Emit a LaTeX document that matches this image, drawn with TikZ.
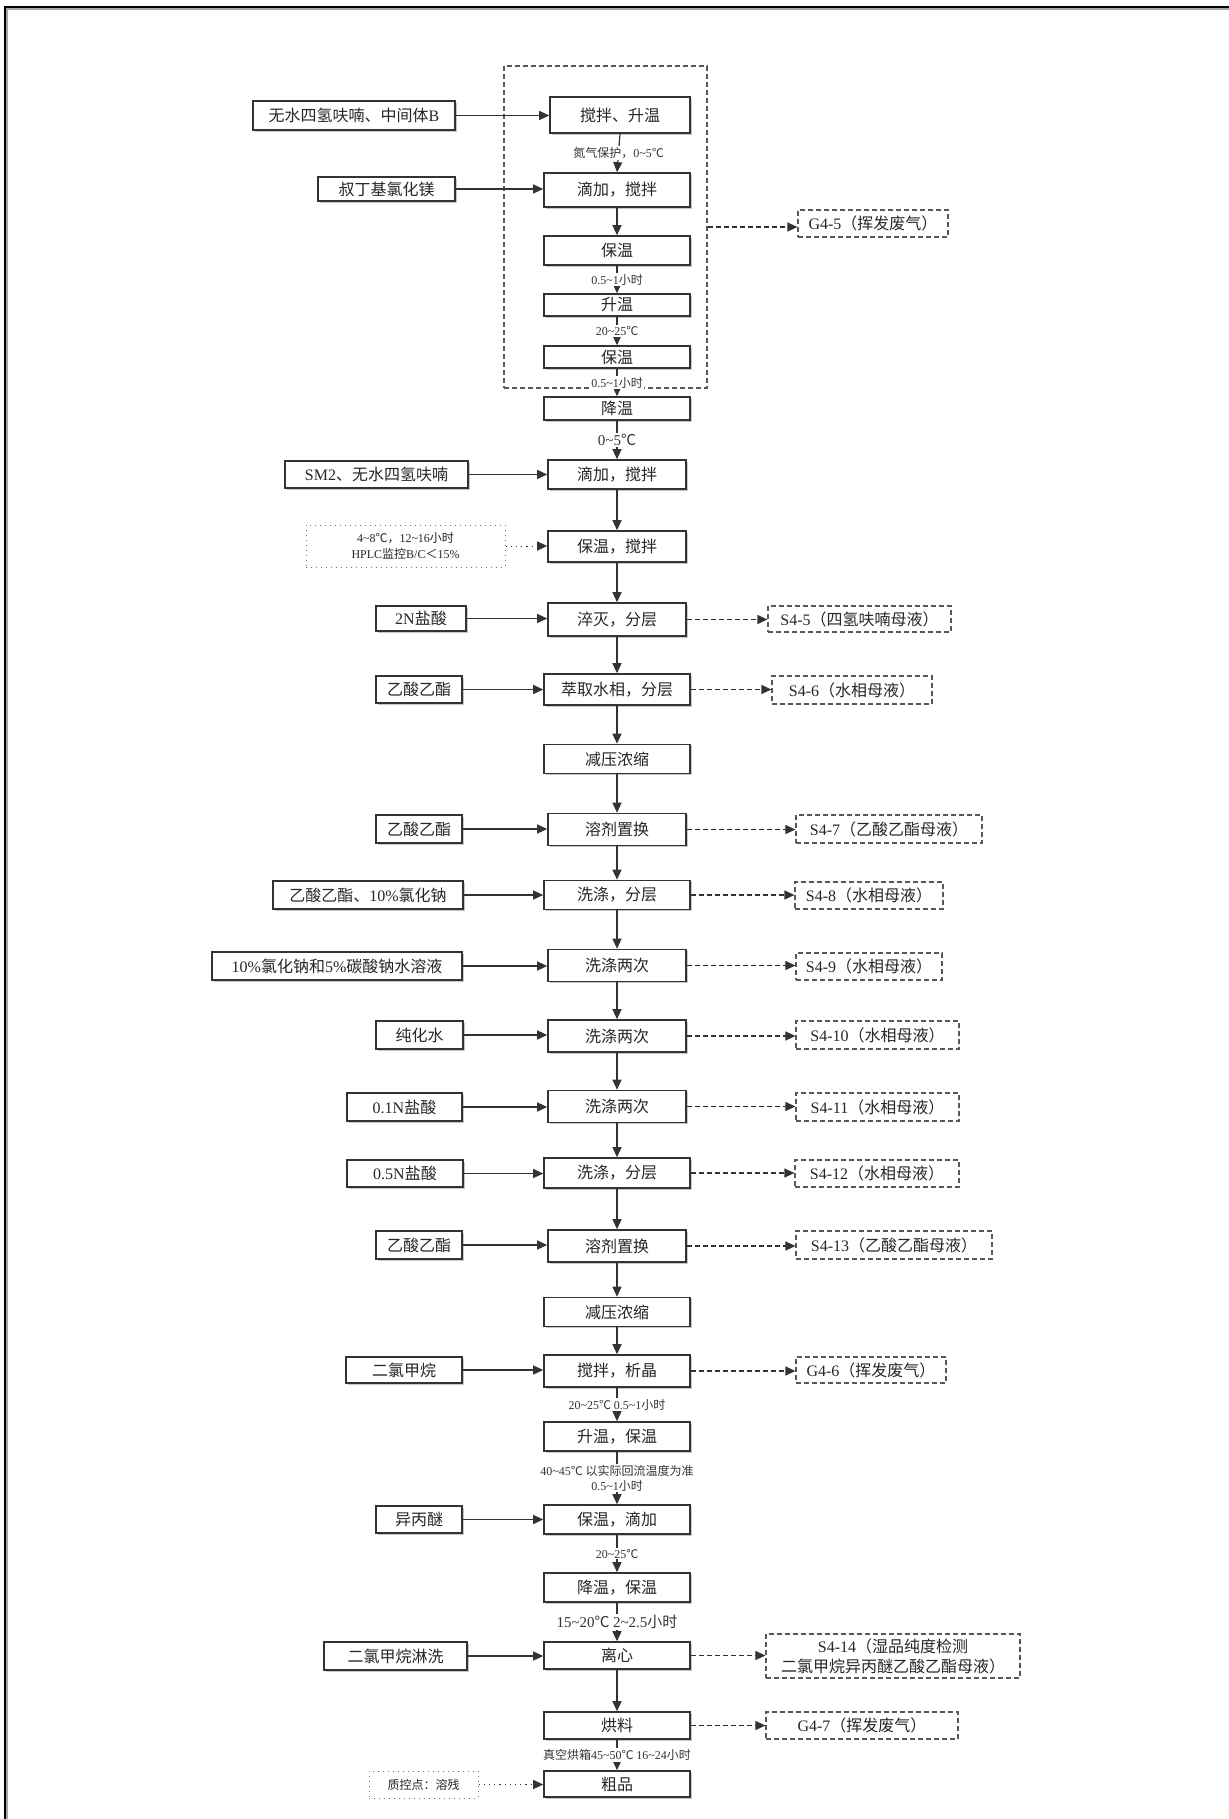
\documentclass[tikz,border=0pt]{standalone}
\usepackage{fontspec}
\setmainfont{Noto Sans CJK SC}
\newfontfamily\latf{Liberation Serif}
\usetikzlibrary{arrows.meta,shadows}
\newcommand\myl[1]{{\latf #1}}
\newcommand\tld{\textasciitilde}
\newcommand\fsA{\fontsize{8pt}{10pt}\selectfont}
\newcommand\fsB{\fontsize{6pt}{7.6pt}\selectfont}
\newcommand\fsC{\fontsize{7.5pt}{9pt}\selectfont}
\tikzset{
 sz/.style 2 args={minimum width=#1*0.5pt, minimum height=#2*0.5pt},
 box/.style={draw=black!80, line width=0.8pt, fill=white, inner sep=0pt, font=\fsA, text=black!85,
   drop shadow={shadow xshift=0.9pt, shadow yshift=-0.9pt, fill=black!22, opacity=1}},
 obox/.style={draw=black!65, dash pattern=on 2.5pt off 1.5pt, line width=0.6pt, fill=white, inner sep=0pt, font=\fsA, text=black!85, align=center},
 qbox/.style={draw=black!55, dotted, line width=0.5pt, inner sep=0pt, font=\fsB, align=center, text=black!85},
 lab/.style={fill=white, inner sep=0.6pt, font=\fsB, text=black!80, align=center},
 arr/.style={draw=black!80, line width=0.6pt, -{Triangle[length=5pt,width=4.5pt]}},
 darr/.style={arr, dash pattern=on 2.5pt off 1.5pt},
 qarr/.style={arr, dotted, line width=0.5pt},
}
\begin{document}
\begin{tikzpicture}[x=0.5pt,y=-0.5pt]
\useasboundingbox (0,0) rectangle (1229,1819);
\fill[white] (0,0) rectangle (1229,1819);
% frame
\draw[black!35, line width=1pt] (7,1819) -- (7,9) -- (1229,9);
\draw[black, line width=1pt] (5,1819) -- (5,7) -- (1229,7);
% container
\node[draw=black!65, dash pattern=on 2.5pt off 1.5pt, line width=0.6pt, inner sep=0pt, sz={203}{322}] (grp) at (605.5,227) {};

% main column
\node[box, sz={140}{36}] (m1) at (620,115) {搅拌、升温};
\node[box, sz={146}{34}] (m2) at (617,190) {滴加，搅拌};
\node[box, sz={146}{29}] (m3) at (617,250.5) {保温};
\node[box, sz={146}{22}] (m4) at (617,305) {升温};
\node[box, sz={146}{22}] (m5) at (617,357) {保温};
\node[box, sz={146}{23}] (m6) at (617,408.5) {降温};
\node[box, sz={138}{29}] (m7) at (617,474.5) {滴加，搅拌};
\node[box, sz={138}{31}] (m8) at (617,546.5) {保温，搅拌};
\node[box, sz={138}{33}] (m9) at (617,619.5) {淬灭，分层};
\node[box, sz={146}{31}] (m10) at (617,689.5) {萃取水相，分层};
\node[box, sz={146}{29}] (m11) at (617,759) {减压浓缩};
\node[box, sz={138}{32}] (m12) at (617,829.5) {溶剂置换};
\node[box, sz={146}{29}] (m13) at (617,895) {洗涤，分层};
\node[box, sz={138}{32}] (m14) at (617,965.5) {洗涤两次};
\node[box, sz={138}{32}] (m15) at (617,1036) {洗涤两次};
\node[box, sz={138}{32}] (m16) at (617,1106.5) {洗涤两次};
\node[box, sz={146}{30}] (m17) at (617,1173) {洗涤，分层};
\node[box, sz={138}{32}] (m18) at (617,1246) {溶剂置换};
\node[box, sz={146}{29}] (m19) at (617,1312) {减压浓缩};
\node[box, sz={146}{32}] (m20) at (617,1371) {搅拌，析晶};
\node[box, sz={146}{29}] (m21) at (617,1436.5) {升温，保温};
\node[box, sz={146}{29}] (m22) at (617,1519.5) {保温，滴加};
\node[box, sz={146}{29}] (m23) at (617,1587.5) {降温，保温};
\node[box, sz={146}{27}] (m24) at (617,1655.5) {离心};
\node[box, sz={146}{27}] (m25) at (617,1725.5) {烘料};
\node[box, sz={146}{26}] (m26) at (617,1784) {粗品};

% inputs
\node[box, sz={202}{29}] (i1) at (354,115.5) {无水四氢呋喃、中间体\myl{B}};
\node[box, sz={137}{24}] (i2) at (386.5,189) {叔丁基氯化镁};
\node[box, sz={183}{27}] (i7) at (376.5,474.5) {\myl{SM2}、无水四氢呋喃};
\node[qbox, sz={199}{42}] (q8) at (405.5,546) {\myl{4\tld 8}℃，\myl{12\tld 16}小时\\\myl{HPLC}监控\myl{B/C}＜\myl{15\%}};
\node[box, sz={90}{25}] (i9) at (421,618.5) {\myl{2N}盐酸};
\node[box, sz={86}{27}] (i10) at (419,689.5) {乙酸乙酯};
\node[box, sz={86}{28}] (i12) at (419,829) {乙酸乙酯};
\node[box, sz={190}{28}] (i13) at (368,895) {乙酸乙酯、\myl{10\%}氯化钠};
\node[box, sz={250}{28}] (i14) at (337,966) {\myl{10\%}氯化钠和\myl{5\%}碳酸钠水溶液};
\node[box, sz={87}{28}] (i15) at (419.5,1035) {纯化水};
\node[box, sz={115}{28}] (i16) at (404.5,1107) {\myl{0.1N}盐酸};
\node[box, sz={116}{27}] (i17) at (405,1173.5) {\myl{0.5N}盐酸};
\node[box, sz={86}{28}] (i18) at (419,1245) {乙酸乙酯};
\node[box, sz={116}{26}] (i20) at (404,1370) {二氯甲烷};
\node[box, sz={86}{27}] (i22) at (419,1519.5) {异丙醚};
\node[box, sz={143}{28}] (i24) at (395.5,1656) {二氯甲烷淋洗};
\node[qbox, sz={109}{27}] (q26) at (423.5,1784.5) {质控点：溶残};

% outputs
\node[obox, sz={150}{27}] (g45) at (873,223.5) {\myl{G4-5}（挥发废气）};
\node[obox, sz={183}{26}] (o9) at (859.5,619) {\myl{S4-5}（四氢呋喃母液）};
\node[obox, sz={160}{28}] (o10) at (852,690) {\myl{S4-6}（水相母液）};
\node[obox, sz={186}{28}] (o12) at (889,829) {\myl{S4-7}（乙酸乙酯母液）};
\node[obox, sz={148}{27}] (o13) at (869,895.5) {\myl{S4-8}（水相母液）};
\node[obox, sz={146}{27}] (o14) at (869,966.5) {\myl{S4-9}（水相母液）};
\node[obox, sz={163}{28}] (o15) at (877.5,1035) {\myl{S4-10}（水相母液）};
\node[obox, sz={163}{28}] (o16) at (877.5,1107) {\myl{S4-11}（水相母液）};
\node[obox, sz={164}{27}] (o17) at (877,1173.5) {\myl{S4-12}（水相母液）};
\node[obox, sz={196}{28}] (o18) at (894,1245) {\myl{S4-13}（乙酸乙酯母液）};
\node[obox, sz={150}{26}] (o20) at (871,1370) {\myl{G4-6}（挥发废气）};
\node[obox, sz={254}{44}] (o24) at (893,1656) {\myl{S4-14}（湿品纯度检测\\二氯甲烷异丙醚乙酸乙酯母液）};
\node[obox, sz={192}{27}] (o25) at (862,1725.5) {\myl{G4-7}（挥发废气）};

% main vertical connectors
\draw[arr] (m1.south) -- (m2.north) node[lab, midway] {氮气保护，\myl{0\tld 5}℃};
\draw[arr] (m2) -- (m3);
\draw[arr] (m3) -- (m4) node[lab, midway] {\myl{0.5\tld 1}小时};
\draw[arr] (m4) -- (m5) node[lab, midway] {\myl{20\tld 25}℃};
\draw[arr] (m5) -- (m6) node[lab, midway] {\myl{0.5\tld 1}小时};
\draw[arr] (m6) -- (m7) node[lab, midway, font=\fsC] {\myl{0\tld 5}℃};
\draw[arr] (m7) -- (m8);
\draw[arr] (m8) -- (m9);
\draw[arr] (m9) -- (m10);
\draw[arr] (m10) -- (m11);
\draw[arr] (m11) -- (m12);
\draw[arr] (m12) -- (m13);
\draw[arr] (m13) -- (m14);
\draw[arr] (m14) -- (m15);
\draw[arr] (m15) -- (m16);
\draw[arr] (m16) -- (m17);
\draw[arr] (m17) -- (m18);
\draw[arr] (m18) -- (m19);
\draw[arr] (m19) -- (m20);
\draw[arr] (m20) -- (m21) node[lab, midway] {\myl{20\tld 25}℃ \myl{0.5\tld 1}小时};
\draw[arr] (m21) -- (m22) node[lab, midway] {\myl{40\tld 45}℃ 以实际回流温度为准\\\myl{0.5\tld 1}小时};
\draw[arr] (m22) -- (m23) node[lab, midway] {\myl{20\tld 25}℃};
\draw[arr] (m23) -- (m24) node[lab, midway, font=\fsC] {\myl{15\tld 20}℃ \myl{2\tld 2.5}小时};
\draw[arr] (m24) -- (m25);
\draw[arr] (m25) -- (m26) node[lab, midway] {真空烘箱\myl{45\tld 50}℃ \myl{16\tld 24}小时};

% input connectors
\draw[arr] (i1) -- (i1 -| m1.west);
\draw[arr] (i2) -- (i2 -| m2.west);
\draw[arr] (i7) -- (i7 -| m7.west);
\draw[qarr] (q8) -- (q8 -| m8.west);
\draw[arr] (i9) -- (i9 -| m9.west);
\draw[arr] (i10) -- (i10 -| m10.west);
\draw[arr] (i12) -- (i12 -| m12.west);
\draw[arr] (i13) -- (i13 -| m13.west);
\draw[arr] (i14) -- (i14 -| m14.west);
\draw[arr] (i15) -- (i15 -| m15.west);
\draw[arr] (i16) -- (i16 -| m16.west);
\draw[arr] (i17) -- (i17 -| m17.west);
\draw[arr] (i18) -- (i18 -| m18.west);
\draw[arr] (i20) -- (i20 -| m20.west);
\draw[arr] (i22) -- (i22 -| m22.west);
\draw[arr] (i24) -- (i24 -| m24.west);
\draw[qarr] (q26) -- (q26 -| m26.west);

% output connectors
\draw[darr] (grp.east) -- (grp.east -| g45.west);
\draw[darr] (m9.east) -- (m9.east -| o9.west);
\draw[darr] (m10.east) -- (m10.east -| o10.west);
\draw[darr] (m12.east) -- (m12.east -| o12.west);
\draw[darr] (m13.east) -- (m13.east -| o13.west);
\draw[darr] (m14.east) -- (m14.east -| o14.west);
\draw[darr] (m15.east) -- (m15.east -| o15.west);
\draw[darr] (m16.east) -- (m16.east -| o16.west);
\draw[darr] (m17.east) -- (m17.east -| o17.west);
\draw[darr] (m18.east) -- (m18.east -| o18.west);
\draw[darr] (m20.east) -- (m20.east -| o20.west);
\draw[darr] (m24.east) -- (m24.east -| o24.west);
\draw[darr] (m25.east) -- (m25.east -| o25.west);
\end{tikzpicture}
\end{document}
